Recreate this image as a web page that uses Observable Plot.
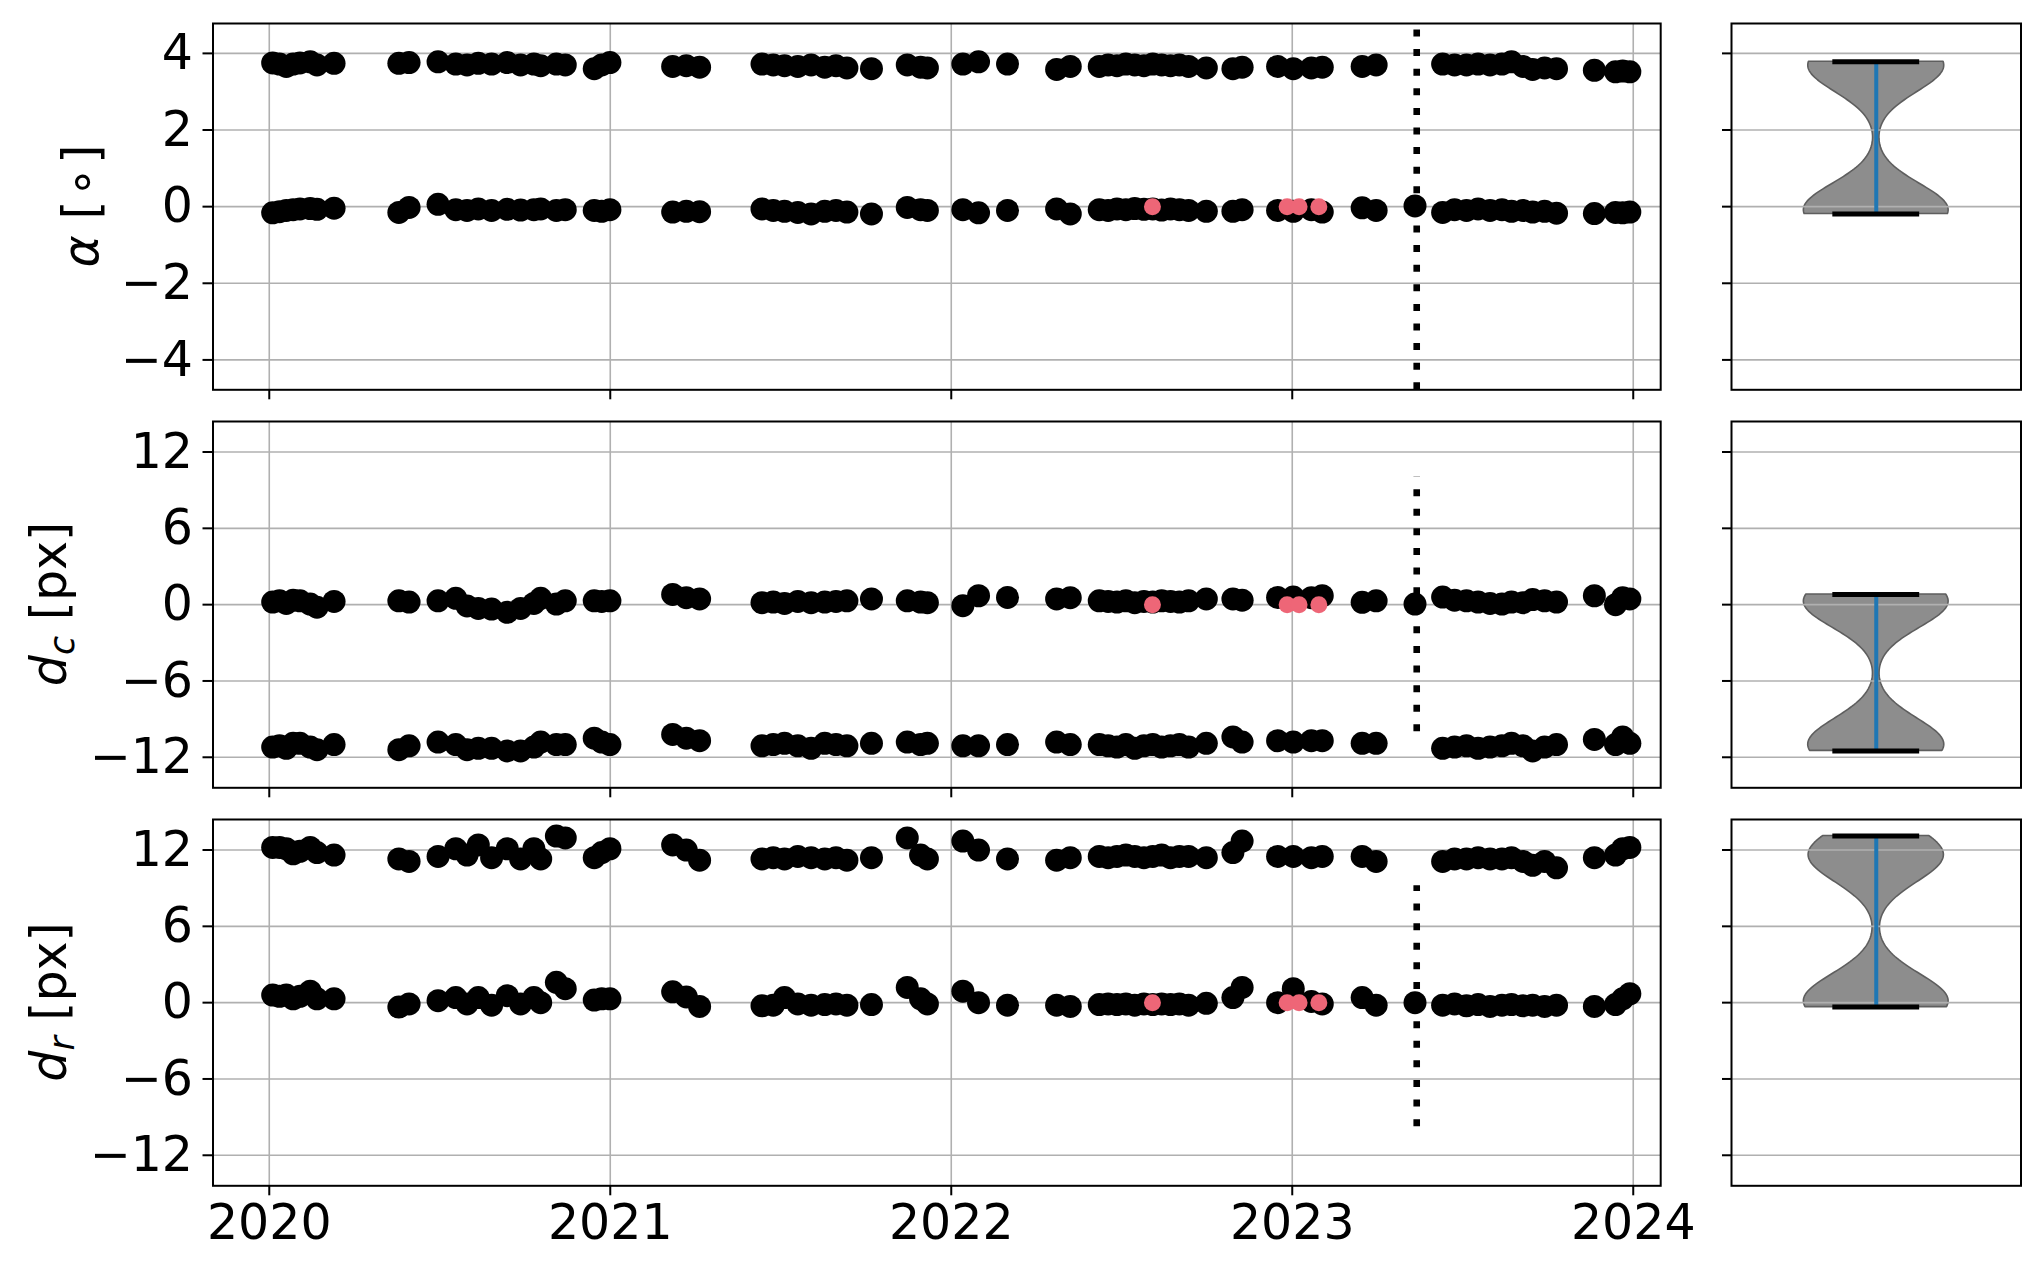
<!DOCTYPE html>
<html><head><meta charset="utf-8">
<script src="https://cdn.jsdelivr.net/npm/d3@7"></script>
<script src="https://cdn.jsdelivr.net/npm/@observablehq/plot@0.6"></script>
<style>
html,body{margin:0;padding:0;background:#fff;}
#fig{position:relative;width:2043px;height:1272px;background:#fff;overflow:hidden;}
#fig svg{position:absolute;}
</style>
</head><body><div id="fig"></div>
<script>
// ---------------- data (decimal years) ----------------
const dates = [
 2020.01, 2020.03, 2020.05, 2020.07, 2020.09, 2020.12, 2020.14, 2020.19,
 2020.38, 2020.41,
 2020.495, 2020.547, 2020.58, 2020.613, 2020.652, 2020.698, 2020.737, 2020.776, 2020.796, 2020.842, 2020.868,
 2020.953, 2020.975, 2020.999,
 2021.183, 2021.223, 2021.262,
 2021.445, 2021.478, 2021.511, 2021.55, 2021.589, 2021.629, 2021.662, 2021.694, 2021.766,
 2021.871, 2021.91, 2021.93,
 2022.034, 2022.08, 2022.165,
 2022.309, 2022.349,
 2022.434, 2022.46, 2022.486, 2022.512, 2022.538, 2022.565, 2022.591, 2022.617, 2022.643, 2022.669, 2022.696, 2022.748,
 2022.826, 2022.853,
 2022.957, 2023.003, 2023.056, 2023.088,
 2023.205, 2023.246,
 2023.441, 2023.476, 2023.511, 2023.545, 2023.58, 2023.615, 2023.643, 2023.677, 2023.705, 2023.74, 2023.775,
 2023.886, 2023.948, 2023.969, 2023.99
];
const alphaHi = [
 3.75, 3.72, 3.66, 3.72, 3.75, 3.78, 3.70, 3.74,
 3.74, 3.76,
 3.78, 3.72, 3.70, 3.74, 3.72, 3.76, 3.70, 3.72, 3.68, 3.72, 3.70,
 3.60, 3.70, 3.76,
 3.66, 3.68, 3.64,
 3.72, 3.70, 3.68, 3.66, 3.70, 3.64, 3.68, 3.62, 3.60,
 3.70, 3.64, 3.62,
 3.72, 3.78, 3.72,
 3.58, 3.66,
 3.66, 3.70, 3.68, 3.72, 3.70, 3.68, 3.72, 3.70, 3.68, 3.70, 3.66, 3.62,
 3.60, 3.64,
 3.66, 3.60, 3.62, 3.64,
 3.66, 3.70,
 3.72, 3.70, 3.70, 3.72, 3.70, 3.72, 3.78, 3.66, 3.58, 3.62, 3.60,
 3.56, 3.52, 3.54, 3.52
];
const alphaLo = [
 -0.16, -0.13, -0.10, -0.08, -0.06, -0.05, -0.07, -0.04,
 -0.15, -0.02,
 0.06, -0.08, -0.10, -0.06, -0.10, -0.07, -0.09, -0.08, -0.06, -0.10, -0.08,
 -0.10, -0.12, -0.08,
 -0.14, -0.12, -0.13,
 -0.06, -0.10, -0.12, -0.15, -0.19, -0.12, -0.10, -0.14, -0.19,
 -0.02, -0.08, -0.10,
 -0.08, -0.16, -0.10,
 -0.06, -0.19,
 -0.08, -0.10, -0.06, -0.08, -0.05, -0.07, -0.06, -0.09, -0.06, -0.08, -0.10, -0.12,
 -0.12, -0.08,
 -0.10, -0.12, -0.08, -0.14,
 -0.03, -0.10,
 -0.15, -0.08, -0.10, -0.06, -0.10, -0.08, -0.12, -0.10, -0.14, -0.12, -0.17,
 -0.18, -0.15, -0.16, -0.14
];
const dcHi = [
 0.20, 0.30, 0.10, 0.35, 0.30, 0.05, -0.20, 0.25,
 0.30, 0.20,
 0.30, 0.50, -0.10, -0.30, -0.35, -0.60, -0.30, 0.10, 0.50, 0.05, 0.30,
 0.30, 0.25, 0.30,
 0.80, 0.55, 0.45,
 0.15, 0.20, 0.10, 0.25, 0.15, 0.20, 0.25, 0.30, 0.45,
 0.30, 0.20, 0.15,
 -0.08, 0.70, 0.57,
 0.45, 0.55,
 0.30, 0.25, 0.20, 0.30, 0.15, 0.25, 0.20, 0.30, 0.25, 0.20, 0.30, 0.45,
 0.45, 0.35,
 0.57, 0.60, 0.55, 0.70,
 0.18, 0.30,
 0.60, 0.35, 0.30, 0.20, 0.10, 0.05, 0.20, 0.15, 0.40, 0.30, 0.20,
 0.70, 0.00, 0.55, 0.45
];
const dcLo = [
 -11.2, -11.1, -11.3, -10.9, -10.9, -11.2, -11.4, -11.0,
 -11.4, -11.1,
 -10.8, -11.0, -11.4, -11.3, -11.3, -11.5, -11.5, -11.2, -10.8, -11.0, -11.0,
 -10.5, -10.8, -11.0,
 -10.2, -10.5, -10.7,
 -11.1, -11.0, -10.9, -11.1, -11.3, -10.9, -11.0, -11.1, -10.9,
 -10.8, -11.0, -10.9,
 -11.1, -11.1, -11.0,
 -10.8, -11.0,
 -11.0, -11.1, -11.2, -11.0, -11.3, -11.1, -11.0, -11.2, -11.1, -11.0, -11.2, -10.9,
 -10.4, -10.8,
 -10.7, -10.8, -10.7, -10.7,
 -10.9, -10.9,
 -11.3, -11.2, -11.1, -11.3, -11.2, -11.1, -10.9, -11.1, -11.5, -11.2, -11.0,
 -10.6, -11.0, -10.4, -10.9
];
const drHi = [
 12.2, 12.2, 12.1, 11.7, 11.9, 12.2, 11.8, 11.6,
 11.3, 11.1,
 11.5, 12.1, 11.6, 12.4, 11.4, 12.1, 11.3, 12.1, 11.3, 13.1, 12.95,
 11.4, 11.8, 12.1,
 12.4, 12.0, 11.2,
 11.3, 11.4, 11.3, 11.5, 11.4, 11.3, 11.4, 11.2, 11.4,
 12.95, 11.6, 11.3,
 12.7, 12.0, 11.3,
 11.2, 11.4,
 11.5, 11.4, 11.5, 11.6, 11.5, 11.4, 11.5, 11.6, 11.4, 11.5, 11.5, 11.4,
 11.8, 12.7,
 11.5, 11.5, 11.4, 11.5,
 11.5, 11.1,
 11.1, 11.3, 11.3, 11.4, 11.3, 11.3, 11.4, 11.1, 10.8, 11.1, 10.6,
 11.4, 11.6, 12.1, 12.2
];
const drLo = [
 0.6, 0.5, 0.6, 0.3, 0.5, 0.9, 0.3, 0.3,
 -0.35, -0.1,
 0.15, 0.4, -0.1, 0.4, -0.2, 0.55, -0.1, 0.4, 0.0, 1.6, 1.1,
 0.2, 0.3, 0.3,
 0.85, 0.45, -0.3,
 -0.25, -0.2, 0.4, -0.1, -0.2, -0.15, -0.1, -0.2, -0.15,
 1.2, 0.3, -0.1,
 0.9, 0.0, -0.2,
 -0.2, -0.3,
 -0.15, -0.1, -0.15, -0.1, -0.2, -0.1, -0.15, -0.1, -0.15, -0.1, -0.2, -0.05,
 0.4, 1.2,
 0.0, 1.1, 0.1, -0.1,
 0.4, -0.2,
 -0.2, -0.1, -0.25, -0.15, -0.3, -0.2, -0.15, -0.25, -0.2, -0.3, -0.2,
 -0.3, -0.15, 0.3, 0.7
];
// reference observation at the dotted marker
const refDate = 2023.36;
const refAlpha = 0.02, refDc = 0.05, refDr = 0.0;
// highlighted (red) observations
const redDates = [2022.59, 2022.985, 2023.02, 2023.078];
const redAlpha = [0, 0, 0, 0];
const redDc = [0, 0, 0, 0];
const redDr = [0, 0, 0, 0];
// dotted vertical marker
const markerDate = 2023.365;
const markerLow = [-4.78, -10, -9.75];
const markerHigh = [4.78, 10.05, 9.2];
// axis ticks
const yearTicks = [2020, 2021, 2022, 2023, 2024];
const alphaTicks = [-4, -2, 0, 2, 4];
const pxTicks = [-12, -6, 0, 6, 12];

// ---------------- layout ----------------
const fig = document.getElementById("fig");
const FONT = "'DejaVu Sans', sans-serif";
const GRID = "#b0b0b0";
const innerH = 366.3;
const mainLeft = 212.5, mainRight = 1660.2, mainW = 1720;
const violLeft = 1730.8, violRight = 2020.3;
const fmt = d => d < 0 ? "\u2212" + Math.abs(d) : String(d);
const baseStyle = {fontFamily: FONT, fontSize: "49px", background: "transparent", maxWidth: "none", overflow: "visible", color: "black"};

const panels = [
  {top: 22.7, dom: [-4.78, 4.78], ticks: alphaTicks, hi: alphaHi, lo: alphaLo, ref: refAlpha, red: redAlpha, showX: false},
  {top: 420.8, dom: [-14.4, 14.4], ticks: pxTicks, hi: dcHi, lo: dcLo, ref: refDc, red: redDc, showX: false},
  {top: 818.6, dom: [-14.4, 14.4], ticks: pxTicks, hi: drHi, lo: drLo, ref: refDr, red: redDr, showX: true}
];

function kde(values) {
  const n = values.length;
  const sd = d3.deviation(values);
  const bw = sd * Math.pow(n, -0.2);
  const lo = d3.min(values), hi = d3.max(values);
  const pts = d3.range(100).map(i => lo + (hi - lo) * i / 99);
  const dens = pts.map(y => d3.sum(values, v => Math.exp(-0.5 * ((y - v) / bw) ** 2)));
  const m = d3.max(dens);
  return {lo, hi, rows: pts.map((y, i) => ({y, w: dens[i] / m * 0.25}))};
}

panels.forEach((p, k) => {
  const mt = 12, mb = p.showX ? 80 : 16;
  const rows = dates.map((t, i) => ({t, hi: p.hi[i], lo: p.lo[i]}));
  const reds = redDates.map((t, i) => ({t, v: p.red[i]}));
  const svg = Plot.plot({
    width: mainW, height: mt + innerH + mb,
    marginLeft: mainLeft, marginRight: mainW - mainRight, marginTop: mt, marginBottom: mb,
    x: {domain: [2019.835, 2024.0805]},
    y: {domain: p.dom},
    style: baseStyle,
    marks: [
      Plot.gridX(yearTicks, {stroke: GRID, strokeOpacity: 1, strokeWidth: 1.6}),
      Plot.gridY(p.ticks, {stroke: GRID, strokeOpacity: 1, strokeWidth: 1.6}),
      Plot.dot(rows, {x: "t", y: "hi", r: 11.5, fill: "black"}),
      Plot.dot(rows, {x: "t", y: "lo", r: 11.5, fill: "black"}),
      Plot.dot([{t: refDate, v: p.ref}], {x: "t", y: "v", r: 11.5, fill: "black"}),
      Plot.dot(reds, {x: "t", y: "v", r: 8.5, fill: "#EE6677"}),
      Plot.ruleX([{t: markerDate, a: markerLow[k], b: markerHigh[k]}], {x: "t", y1: "a", y2: "b", stroke: "black", strokeWidth: 6.6, strokeDasharray: "7,12.6"}),
      Plot.frame({stroke: "black", strokeWidth: 2}),
      Plot.axisX(yearTicks, {tickSize: 10, tickPadding: 8, strokeWidth: 2, label: null, tickFormat: p.showX ? (d => String(d)) : (() => "")}),
      Plot.axisY(p.ticks, {tickSize: 10, tickPadding: 10, strokeWidth: 2, label: null, tickFormat: fmt})
    ]
  });
  svg.style.left = "0px";
  svg.style.top = (p.top - mt) + "px";
  fig.appendChild(svg);

  // violin panel
  const vals = p.hi.concat(p.lo, [p.ref], p.red);
  const K = kde(vals);
  const vml = 12, vmr = 4;
  const vsvg = Plot.plot({
    width: vml + (violRight - violLeft) + vmr, height: mt + innerH + 16,
    marginLeft: vml, marginRight: vmr, marginTop: mt, marginBottom: 16,
    x: {domain: [0.5, 1.5], axis: null},
    y: {domain: p.dom},
    style: baseStyle,
    marks: [
      Plot.areaX(K.rows, {y: "y", x1: d => 1 - d.w, x2: d => 1 + d.w, fill: "#8d8d8d", stroke: "#5e5e5e", strokeWidth: 1.6}),
      Plot.gridY(p.ticks, {stroke: GRID, strokeOpacity: 1, strokeWidth: 1.6}),
      Plot.ruleX([1], {y1: K.lo, y2: K.hi, stroke: "#1f77b4", strokeWidth: 4}),
      Plot.ruleY([K.lo, K.hi], {x1: 0.85, x2: 1.15, stroke: "black", strokeWidth: 5}),
      Plot.frame({stroke: "black", strokeWidth: 2}),
      Plot.axisY(p.ticks, {tickSize: 9, strokeWidth: 2, label: null, tickFormat: () => ""})
    ]
  });
  vsvg.style.left = (violLeft - vml) + "px";
  vsvg.style.top = (p.top - mt) + "px";
  fig.appendChild(vsvg);
});

// ---------------- y-axis titles ----------------
const ov = d3.select(fig).append("svg")
  .attr("width", 2043).attr("height", 1272)
  .style("left", "0px").style("top", "0px").style("pointer-events", "none")
  .attr("font-family", FONT).attr("font-size", 49);

function ylabel(x, y) {
  return ov.append("text").attr("transform", `translate(${x},${y}) rotate(-90)`).attr("text-anchor", "middle");
}
const t1 = ylabel(97.5, 206);
t1.append("tspan").attr("font-style", "italic").text("α");
t1.append("tspan").text(" [");
t1.append("tspan").attr("dx", 3).text("∘");
t1.append("tspan").attr("dx", 3).text("]");

const t2 = ylabel(65.5, 604);
t2.append("tspan").attr("font-style", "italic").text("d");
t2.append("tspan").attr("font-style", "italic").attr("font-size", 35).attr("dy", 8).text("c");
t2.append("tspan").attr("dy", -8).text(" [px]");

const t3 = ylabel(66, 1002);
t3.append("tspan").attr("font-style", "italic").text("d");
t3.append("tspan").attr("font-style", "italic").attr("font-size", 35).attr("dy", 8).text("r");
t3.append("tspan").attr("dy", -8).text(" [px]");
</script></body></html>
